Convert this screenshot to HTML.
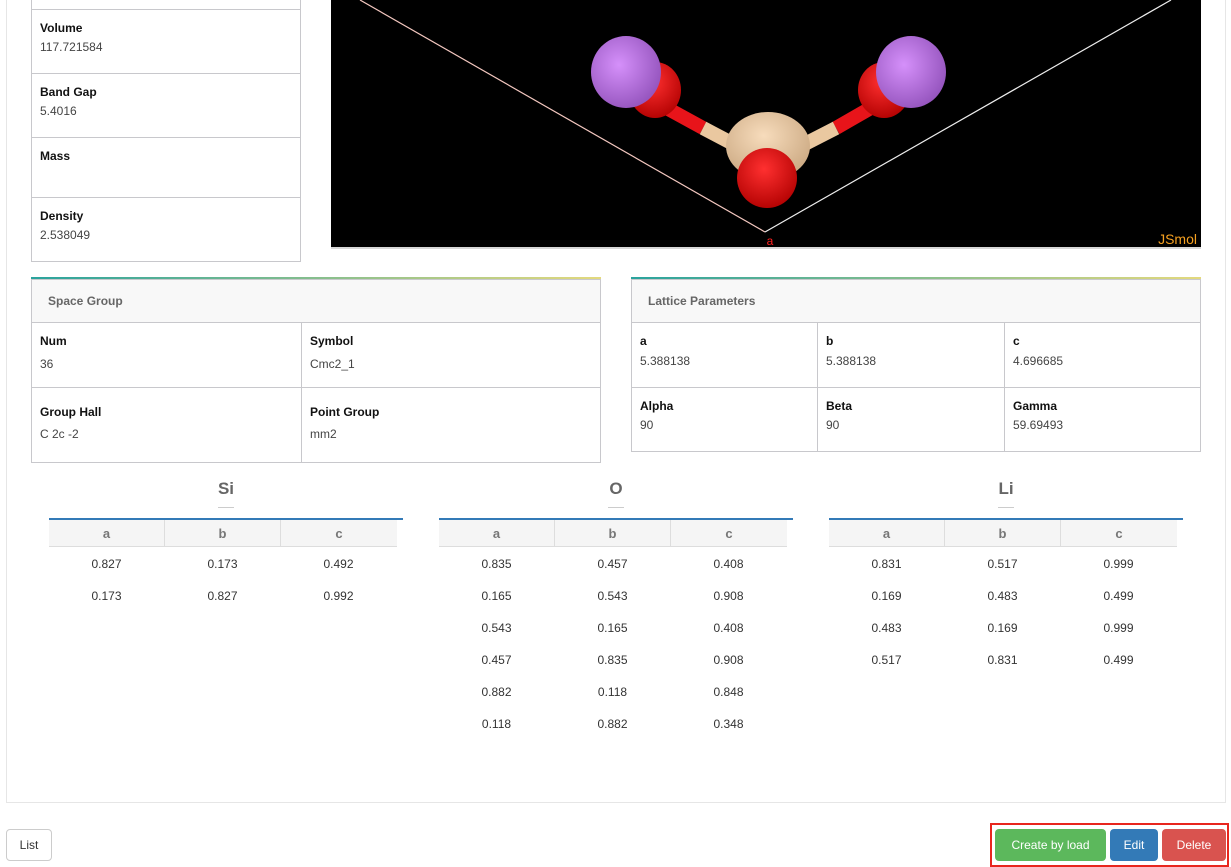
<!DOCTYPE html>
<html><head><meta charset="utf-8">
<style>
*{box-sizing:border-box;margin:0;padding:0}
body{width:1231px;height:867px;background:#fff;position:relative;overflow:hidden;font-family:"Liberation Sans",sans-serif;color:#333}
.abs{position:absolute}
.lbl{position:absolute;font-size:12px;font-weight:bold;color:#111}
.val{position:absolute;font-size:12px;color:#444}
.box{position:absolute;border:1px solid #c8c8cc}
.hl{position:absolute;height:1px;background:#c8c8cc}
.vl{position:absolute;width:1px;background:#c8c8cc}
.grad{position:absolute;height:3px;background:linear-gradient(to right,#2aa39d,#e3d97e)}
.hdr{position:absolute;background:#f8f8f8;font-size:12px;font-weight:bold;color:#666;padding-left:16px;line-height:42px}
.ttl{position:absolute;font-size:17px;font-weight:bold;color:#666;text-align:center;width:40px}
.uline{position:absolute;height:1px;background:#ccc;width:16px}
.th{position:absolute;top:520px;height:27px;background:#f5f5f5;border-bottom:1px solid #ddd}
.thc{position:absolute;top:0;height:27px;line-height:27px;text-align:center;font-size:13px;font-weight:bold;color:#777;border-right:1px solid #ddd}
.cell{position:absolute;font-size:12px;color:#333;text-align:center;width:115px}
.btn{position:absolute;border-radius:4px;color:#fff;font-size:12px;text-align:center;line-height:32px}
</style></head><body>
<div class="abs" style="left:6px;top:-5px;width:1220px;height:808px;border:1px solid #e6e6e6"></div>

<div class="box" style="left:31px;top:-5px;width:270px;height:267px"></div>
<div class="hl" style="left:31px;top:9px;width:270px"></div>
<div class="hl" style="left:31px;top:73px;width:270px"></div>
<div class="hl" style="left:31px;top:137px;width:270px"></div>
<div class="hl" style="left:31px;top:197px;width:270px"></div>
<div class="lbl" style="left:40px;top:21px">Volume</div>
<div class="val" style="left:40px;top:40px">117.721584</div>
<div class="lbl" style="left:40px;top:85px">Band Gap</div>
<div class="val" style="left:40px;top:104px">5.4016</div>
<div class="lbl" style="left:40px;top:149px">Mass</div>
<div class="lbl" style="left:40px;top:209px">Density</div>
<div class="val" style="left:40px;top:228px">2.538049</div>

<svg class="abs" style="left:331px;top:0" width="870" height="249" viewBox="0 0 870 249">
<defs>
<radialGradient id="pu" cx="0.4" cy="0.4" r="0.7"><stop offset="0" stop-color="#d590fa"/><stop offset="1" stop-color="#8f4fb8"/></radialGradient>
<radialGradient id="rd" cx="0.45" cy="0.35" r="0.7"><stop offset="0" stop-color="#ff3030"/><stop offset="1" stop-color="#b00000"/></radialGradient>
<radialGradient id="bg" cx="0.45" cy="0.35" r="0.7"><stop offset="0" stop-color="#f7dcbc"/><stop offset="1" stop-color="#c9a67f"/></radialGradient>
</defs>
<rect width="870" height="248" fill="#000"/>
<rect y="247" width="870" height="2" fill="#d8d8d8"/>
<line x1="29" y1="0" x2="434" y2="232" stroke="#f4c8c0" stroke-width="1.2"/>
<line x1="434" y1="232" x2="840" y2="0" stroke="#eee" stroke-width="1.2"/>
<line x1="330" y1="105" x2="372" y2="128" stroke="#e8141a" stroke-width="14"/>
<line x1="372" y1="128" x2="410" y2="148" stroke="#eac8a0" stroke-width="14"/>
<line x1="545" y1="105" x2="505" y2="128" stroke="#e8141a" stroke-width="14"/>
<line x1="505" y1="128" x2="466" y2="148" stroke="#eac8a0" stroke-width="14"/>
<ellipse cx="324" cy="90" rx="26" ry="28" fill="url(#rd)"/>
<ellipse cx="553" cy="90" rx="26" ry="28" fill="url(#rd)"/>
<ellipse cx="295" cy="72" rx="35" ry="36" fill="url(#pu)"/>
<ellipse cx="580" cy="72" rx="35" ry="36" fill="url(#pu)"/>
<ellipse cx="437" cy="146" rx="42" ry="34" fill="url(#bg)"/>
<ellipse cx="436" cy="178" rx="30" ry="30" fill="url(#rd)"/>
<text x="439" y="245" fill="#ff2020" font-size="12" font-family="Liberation Sans" text-anchor="middle">a</text>
<text x="866" y="244" fill="#f5a020" font-size="14" font-family="Liberation Sans" text-anchor="end">JSmol</text>
</svg>

<!-- Space group -->
<div class="grad" style="left:31px;top:277px;width:570px"></div>
<div class="box" style="left:31px;top:279px;width:570px;height:184px"></div>
<div class="hdr" style="left:32px;top:280px;width:568px;height:42px">Space Group</div>
<div class="hl" style="left:31px;top:322px;width:570px"></div>
<div class="hl" style="left:31px;top:387px;width:570px"></div>
<div class="vl" style="left:301px;top:322px;height:140px"></div>
<div class="lbl" style="left:40px;top:334px">Num</div><div class="val" style="left:40px;top:357px">36</div>
<div class="lbl" style="left:310px;top:334px">Symbol</div><div class="val" style="left:310px;top:357px">Cmc2_1</div>
<div class="lbl" style="left:40px;top:405px">Group Hall</div><div class="val" style="left:40px;top:427px">C 2c -2</div>
<div class="lbl" style="left:310px;top:405px">Point Group</div><div class="val" style="left:310px;top:427px">mm2</div>

<!-- Lattice -->
<div class="grad" style="left:631px;top:277px;width:570px"></div>
<div class="box" style="left:631px;top:279px;width:570px;height:173px"></div>
<div class="hdr" style="left:632px;top:280px;width:568px;height:42px">Lattice Parameters</div>
<div class="hl" style="left:631px;top:322px;width:570px"></div>
<div class="hl" style="left:631px;top:387px;width:570px"></div>
<div class="vl" style="left:817px;top:322px;height:129px"></div>
<div class="vl" style="left:1004px;top:322px;height:129px"></div>
<div class="lbl" style="left:640px;top:334px">a</div><div class="val" style="left:640px;top:354px">5.388138</div>
<div class="lbl" style="left:826px;top:334px">b</div><div class="val" style="left:826px;top:354px">5.388138</div>
<div class="lbl" style="left:1013px;top:334px">c</div><div class="val" style="left:1013px;top:354px">4.696685</div>
<div class="lbl" style="left:640px;top:399px">Alpha</div><div class="val" style="left:640px;top:418px">90</div>
<div class="lbl" style="left:826px;top:399px">Beta</div><div class="val" style="left:826px;top:418px">90</div>
<div class="lbl" style="left:1013px;top:399px">Gamma</div><div class="val" style="left:1013px;top:418px">59.69493</div>

<div id="atoms"></div>

<div class="btn" style="left:6px;top:829px;width:46px;height:32px;border:1px solid #ccc;color:#333;line-height:30px;background:#fff">List</div>
<div class="abs" style="left:990px;top:823px;width:239px;height:44px;border:2px solid #e8261e"></div>
<div class="btn" style="left:995px;top:829px;width:111px;height:32px;background:#5cb85c">Create by load</div>
<div class="btn" style="left:1110px;top:829px;width:48px;height:32px;background:#337ab7">Edit</div>
<div class="btn" style="left:1162px;top:829px;width:64px;height:32px;background:#d9534f">Delete</div>

<script>
const elements = ["Si","O","Li"];
const siA = [0.827,0.173], siB = [0.173,0.827], siC = [0.492,0.992];
const oA = [0.835,0.165,0.543,0.457,0.882,0.118], oB = [0.457,0.543,0.165,0.835,0.118,0.882], oC = [0.408,0.908,0.408,0.908,0.848,0.348];
const liA = [0.831,0.169,0.483,0.517], liB = [0.517,0.483,0.169,0.831], liC = [0.999,0.499,0.999,0.499];
const cols = ["a","b","c"];
const data = [[siA,siB,siC],[oA,oB,oC],[liA,liB,liC]];
const root = document.getElementById('atoms');
elements.forEach((el, i) => {
  const x0 = 49 + i*390;
  const t = document.createElement('div');
  t.className='ttl'; t.style.left=(x0+157)+'px'; t.style.top='479px'; t.textContent=el;
  
  
  root.appendChild(t);
  const u = document.createElement('div');
  u.className='uline'; u.style.left=(x0+169)+'px'; u.style.top='507px';
  root.appendChild(u);
  const bl = document.createElement('div');
  bl.className='abs'; bl.style.left=x0+'px'; bl.style.top='518px'; bl.style.width='354px'; bl.style.height='2px'; bl.style.background='#337ab7';
  root.appendChild(bl);
  const th = document.createElement('div');
  th.className='th'; th.style.left=x0+'px'; th.style.width='348px';
  
  
  cols.forEach((c,j)=>{
    const h=document.createElement('div'); h.className='thc';
    h.style.left=(j*116)+'px'; h.style.width='116px'; if(j==2)h.style.borderRight='none';
    h.textContent=c;
    
    
    th.appendChild(h);
  });
  root.appendChild(th);
  data[i].forEach((colVals,j)=>{
    colVals.forEach((v,r)=>{
      const c=document.createElement('div'); c.className='cell';
      c.style.left=(x0+j*116)+'px'; c.style.top=(557+r*32)+'px';
      c.textContent=v.toFixed(3);
      
      
      root.appendChild(c);
    });
  });
});
</script>
</body></html>
